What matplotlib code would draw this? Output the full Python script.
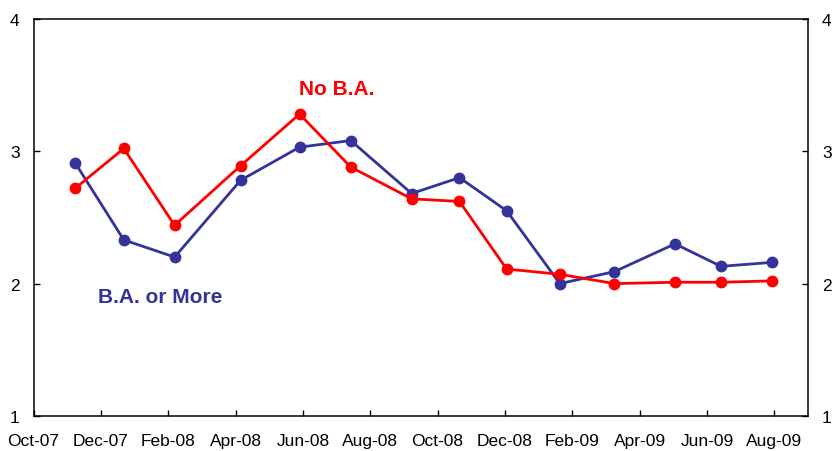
#!/usr/bin/env python3
"""Two-line chart: No B.A. vs B.A. or More"""

import matplotlib.pyplot as plt

# months since Oct-07
months = [1.24, 2.68, 4.19, 6.15, 7.90, 9.42, 11.23, 12.65, 14.05, 15.63, 17.25, 19.05, 20.42, 21.92]
ba_or_more = [2.91, 2.33, 2.20, 2.78, 3.03, 3.08, 2.68, 2.80, 2.55, 2.00, 2.09, 2.30, 2.13, 2.16]
no_ba = [2.72, 3.02, 2.44, 2.89, 3.28, 2.88, 2.64, 2.62, 2.11, 2.07, 2.00, 2.01, 2.01, 2.02]

tick_months = list(range(0, 23, 2))
tick_labels = ["Oct-07", "Dec-07", "Feb-08", "Apr-08", "Jun-08", "Aug-08",
               "Oct-08", "Dec-08", "Feb-09", "Apr-09", "Jun-09", "Aug-09"]

plt.rcParams["font.family"] = ["Liberation Sans", "DejaVu Sans"]

fig = plt.figure(figsize=(8.4, 4.52), dpi=100)
ax = fig.add_axes([0.0399, 0.0774, 0.922, 0.879])

blue = "#333399"
red = "#ff0000"

ax.plot(months, ba_or_more, color=blue, lw=2.0, marker="o", ms=7.5, zorder=3)
ax.plot(months, no_ba, color=red, lw=2.0, marker="o", ms=7.5, zorder=4)

ax.text(9.0, 3.47, "No B.A.", color=red, fontsize=15, fontweight="bold", ha="center", va="center")
ax.text(3.75, 1.9, "B.A. or More", color=blue, fontsize=15, fontweight="bold", ha="center", va="center")

ax.set_xlim(0, 23)
ax.set_ylim(1, 4)
ax.set_xticks(tick_months)
ax.set_xticklabels(tick_labels)
ax.set_yticks([1, 2, 3, 4])

ax.tick_params(axis="x", direction="in", length=4.5, width=1, pad=12, labelsize=12.5)
ax.tick_params(axis="y", direction="in", length=4.5, width=1, pad=10, labelsize=12.5,
               left=True, right=True, labelleft=True, labelright=True)
for s in ax.spines.values():
    s.set_linewidth(1.1)

fig.savefig("out.png", dpi=100)
